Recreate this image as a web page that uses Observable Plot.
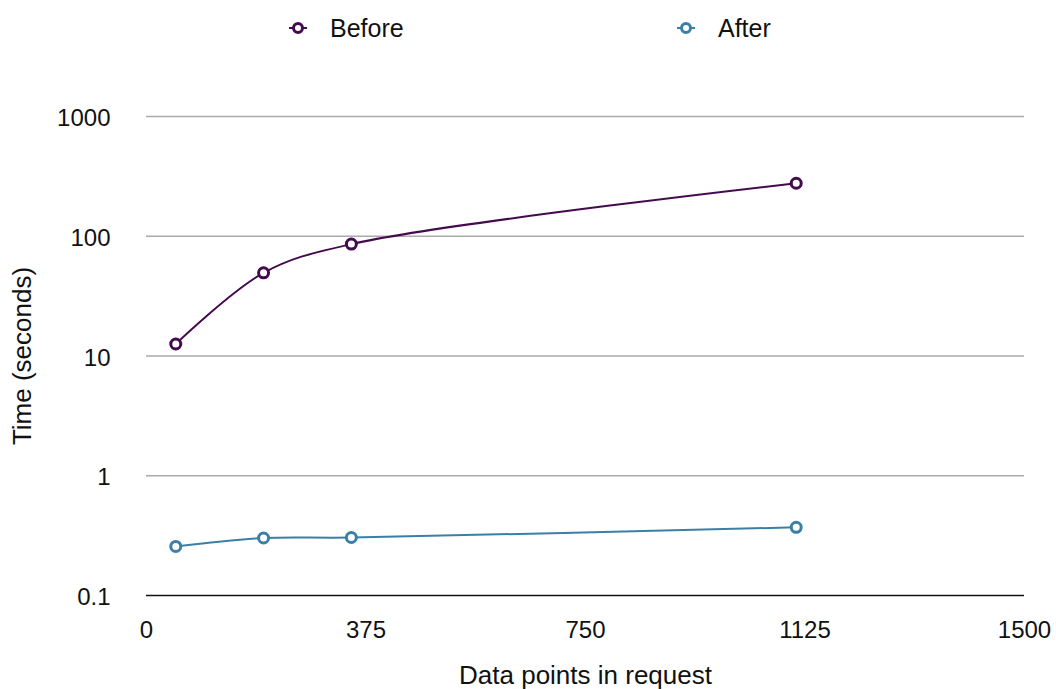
<!DOCTYPE html>
<html>
<head>
<meta charset="utf-8">
<script src="https://cdn.jsdelivr.net/npm/d3@7"></script>
<script src="https://cdn.jsdelivr.net/npm/@observablehq/plot@0.6"></script>
<style>
  html, body { margin: 0; padding: 0; background: #fff; }
  body { width: 1056px; height: 689px; overflow: hidden; font-family: "Liberation Sans", Arial, Helvetica, sans-serif; }
  #legend { position: relative; height: 56px; }
  .item { position: absolute; top: 13px; display: flex; align-items: center; font-size: 25px; color: #111; line-height: 30px; }
  .item svg { margin-right: 22px; }
  #chart svg { display: block; }
</style>
</head>
<body>
<div id="legend"></div>
<div id="chart"></div>
<script>
// Request size (data points) and response time in seconds
const points = [50, 200, 350, 1110];
const before = [12.6, 49.5, 86, 277];
const after = [0.257, 0.302, 0.305, 0.371];
const series = ["Before", "After"];
const colors = ["#430b4e", "#3a7fa5"];
const xTicks = [0, 375, 750, 1125, 1500];
const yTicks = [0.1, 1, 10, 100, 1000];

const rows = [
  ...points.map((x, i) => ({x, y: before[i], s: series[0]})),
  ...points.map((x, i) => ({x, y: after[i], s: series[1]}))
];

// Legend
const legendX = [288, 676];
const legend = document.getElementById("legend");
series.forEach((name, i) => {
  const item = document.createElement("div");
  item.className = "item";
  item.style.left = legendX[i] + "px";
  item.innerHTML =
    `<svg width="20" height="20"><line x1="1" x2="19" y1="10" y2="10" stroke="${colors[i]}" stroke-width="2"/>` +
    `<circle cx="10" cy="10" r="4.5" fill="#fff" stroke="${colors[i]}" stroke-width="3"/></svg>${name}`;
  legend.appendChild(item);
});

const chart = Plot.plot({
  width: 1056,
  height: 633,
  marginTop: 60,
  marginBottom: 94,
  marginLeft: 146,
  marginRight: 32,
  style: {fontFamily: "'Liberation Sans', Arial, Helvetica, sans-serif", fontSize: "24px", color: "#111"},
  x: {domain: [0, 1500]},
  y: {type: "log", domain: [0.1, 1000]},
  color: {domain: series, range: colors},
  marks: [
    Plot.ruleY(yTicks.slice(1), {stroke: "#aaa", strokeWidth: 1.5, strokeOpacity: 1}),
    Plot.ruleY([yTicks[0]], {stroke: "#111", strokeWidth: 1.5}),
    Plot.axisX({ticks: xTicks, tickSize: 0, tickPadding: 25, fontSize: 24, label: null,
      tickFormat: d => String(d)}),
    Plot.axisY({ticks: yTicks, tickSize: 0, tickPadding: 36, fontSize: 24, dy: 2, label: null,
      tickFormat: d => String(d)}),
    Plot.text(["Data points in request"], {frameAnchor: "bottom", dy: 88, fontSize: 26, fill: "#111"}),
    Plot.text(["Time (seconds)"], {frameAnchor: "left", textAnchor: "middle", dx: -124, rotate: -90, fontSize: 26, fill: "#111"}),
    Plot.line(rows, {x: "x", y: "y", z: "s", stroke: "s", strokeWidth: 2, curve: "catmull-rom"}),
    Plot.dot(rows, {x: "x", y: "y", stroke: "s", fill: "#fff", r: 5, strokeWidth: 3})
  ]
});
document.getElementById("chart").appendChild(chart);
</script>
</body>
</html>
